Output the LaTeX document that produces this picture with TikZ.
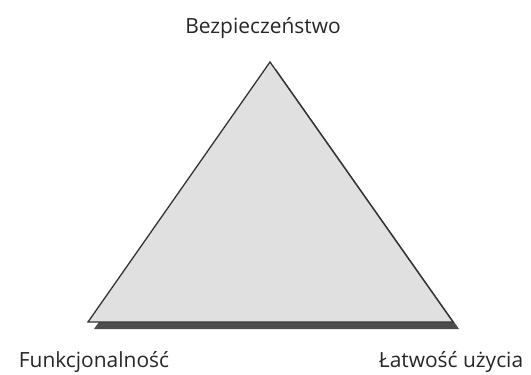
\documentclass[tikz,border=0pt]{standalone}
\usepackage{fontspec}
\setmainfont{Open Sans}
\begin{document}
\begin{tikzpicture}[x=1bp,y=1bp,
  lbl/.style={font=\fontsize{21}{24}\selectfont, text=black!85, anchor=base, inner sep=0pt}]
\useasboundingbox (0,0) rectangle (531,374);
\coordinate (A) at (270,312);
\coordinate (B) at (88,52);
\coordinate (C) at (453,52);
\fill[black!70] ([shift={(6,-7)}]A) -- ([shift={(6,-7)}]B) -- ([shift={(6,-7)}]C) -- cycle;
\draw[fill=black!12, line width=1.3bp, draw=black!80, line join=miter] (A) -- (B) -- (C) -- cycle;
\node[lbl] (top) at (263,341) {Bezpieczeństwo};
\node[lbl] (left) at (94,7) {Funkcjonalność};
\node[lbl] (right) at (451,7) {Łatwość użycia};
\end{tikzpicture}
\end{document}
